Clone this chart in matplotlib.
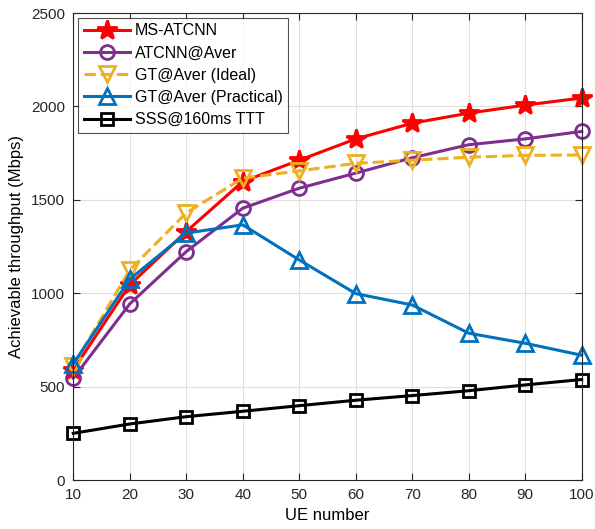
import matplotlib
matplotlib.use("Agg")
import matplotlib.pyplot as plt

plt.rcParams["font.family"] = ["Liberation Sans", "DejaVu Sans"]

ue_number = [10, 20, 30, 40, 50, 60, 70, 80, 90, 100]
ms_atcnn = [590, 1045, 1330, 1598, 1712, 1826, 1910, 1964, 2007, 2045]
atcnn_aver = [545, 943, 1223, 1455, 1562, 1643, 1725, 1795, 1826, 1866]
gt_ideal = [612, 1125, 1430, 1616, 1655, 1695, 1712, 1728, 1738, 1740]
gt_practical = [622, 1075, 1322, 1366, 1178, 998, 937, 786, 732, 668]
sss_ttt = [250, 300, 339, 368, 398, 427, 452, 478, 509, 538]

series = [
    ("MS-ATCNN", ms_atcnn, "#ff0000", "*", "-", 15),
    ("ATCNN@Aver", atcnn_aver, "#7e2f8e", "o", "-", 10),
    ("GT@Aver (Ideal)", gt_ideal, "#edb120", "v", "--", 11),
    ("GT@Aver (Practical)", gt_practical, "#0072bd", "^", "-", 11),
    ("SSS@160ms TTT", sss_ttt, "#000000", "s", "-", 8),
]

fig = plt.figure(figsize=(5.95, 5.29), dpi=100)
ax = fig.add_axes([0.1232, 0.0926, 0.8544, 0.8828])

for label, vals, color, marker, ls, ms in series:
    filled = marker == "*"
    ax.plot(ue_number, vals, color=color, linestyle=ls, linewidth=2.2,
            marker=marker, markersize=ms, markeredgewidth=2,
            markerfacecolor=color if filled else "none",
            markeredgecolor=color, label=label, clip_on=False)

ax.set_xlim(10, 100)
ax.set_ylim(0, 2500)
ax.set_xticks(ue_number)
ax.set_yticks([0, 500, 1000, 1500, 2000, 2500])
ax.tick_params(direction="in", labelsize=11, length=5, width=0.8, pad=6,
               top=True, right=True, colors="#262626")
ax.grid(True, color="#dfdfdf", linewidth=0.8)
ax.set_axisbelow(True)
for sp in ax.spines.values():
    sp.set_color("#262626")
    sp.set_linewidth(0.8)

ax.set_xlabel("UE number", fontsize=12, labelpad=4)
ax.set_ylabel("Achievable throughput (Mbps)", fontsize=12, labelpad=5)

leg = ax.legend(loc="upper left", fontsize=11.5, frameon=True, fancybox=False,
                edgecolor="#262626", handlelength=2.9, handletextpad=0.3,
                labelspacing=0.45, borderpad=0.35, borderaxespad=0.3)
leg.get_frame().set_linewidth(0.8)

fig.savefig("out.png", dpi=100)
